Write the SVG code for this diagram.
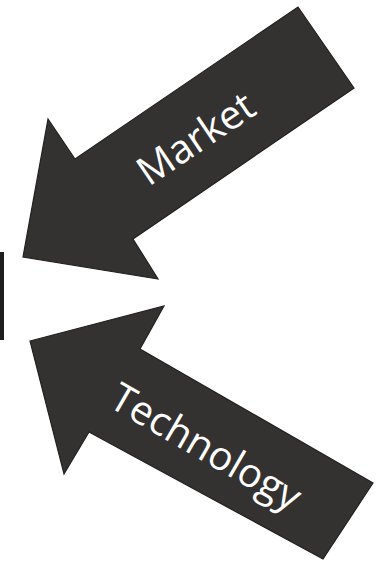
<svg xmlns="http://www.w3.org/2000/svg" width="382" height="570" viewBox="0 0 382 570">
  <style>
    .arrow { fill: #333230; stroke: #222120; stroke-width: 1.2; stroke-linejoin: miter; }
    .label { fill: #ffffff; font-family: "Open Sans", "Liberation Sans", sans-serif; font-size: 40px; text-anchor: middle; }
  </style>
  <rect width="382" height="570" fill="#ffffff"/>

  <!-- target bar at the left edge -->
  <g id="target">
    <rect x="0" y="252" width="4" height="88" fill="#1e1e1e"/>
  </g>

  <g id="connectors">
    <!-- Market arrow, pointing down-left -->
    <g id="market">
      <polygon class="arrow" points="298,7 354,88 133,239 158,279 23,257 48,119 75,159"/>
      <text class="label" transform="translate(203.5,150) rotate(-34)">Market</text>
    </g>
    <!-- Technology arrow, pointing up-left -->
    <g id="technology">
      <polygon class="arrow" points="30,341 164,306 140,349 373,483 323,559 89,432 64,474"/>
      <text class="label" transform="translate(199,459) rotate(30)">Technology</text>
    </g>
  </g>
</svg>
